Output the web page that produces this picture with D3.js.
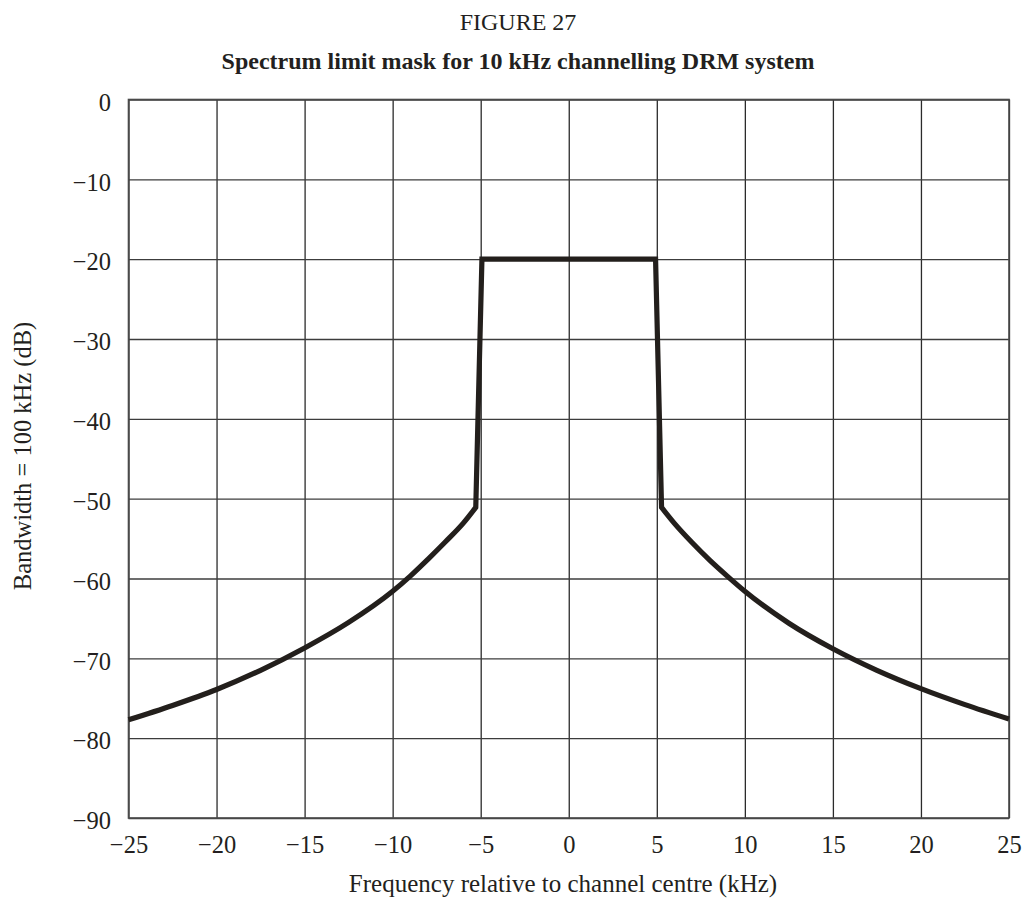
<!DOCTYPE html>
<html>
<head>
<meta charset="utf-8">
<script src="https://cdn.jsdelivr.net/npm/d3@7"></script>
<style>
  html, body { margin: 0; padding: 0; background: #fff; }
  svg text { font-family: "Liberation Serif", "Times New Roman", serif; fill: #231f20; }
</style>
</head>
<body>
<svg id="chart" width="1026" height="901"></svg>
<script>
// ---- data ----
const figureLabel = "FIGURE 27";
const chartTitle = "Spectrum limit mask for 10 kHz channelling DRM system";
const xTitle = "Frequency relative to channel centre (kHz)";
const yTitle = "Bandwidth = 100 kHz (dB)";
const xTicks = [-25, -20, -15, -10, -5, 0, 5, 10, 15, 20, 25];
const yTicks = [0, -10, -20, -30, -40, -50, -60, -70, -80, -90];

// lower skirt (left), kHz / dB
const leftFreq  = [-25, -22.5, -20, -17.5, -15, -12.5, -10, -9, -8, -7, -6, -5.28];
const leftLevel = [-77.7, -75.9, -73.9, -71.5, -68.7, -65.5, -61.6, -59.7, -57.6, -55.4, -53.1, -51.1];
// flat top of the mask, kHz / dB
const topFreq  = [-4.93, 4.93];
const topLevel = [-20, -20];
// lower skirt (right), kHz / dB
const rightFreq  = [5.27, 6, 7, 8, 9, 10, 12.5, 15, 17.5, 20, 22.5, 25];
const rightLevel = [-51.1, -53.1, -55.5, -57.7, -59.7, -61.6, -65.6, -68.8, -71.5, -73.8, -75.8, -77.6];

// ---- layout ----
const svg = d3.select("#chart");
const plotL = 128.5, plotR = 1009, plotT = 99.5, plotB = 818;
const x = d3.scaleLinear().domain([-25, 25]).range([plotL, plotR]);
const y = d3.scaleLinear().domain([-90, 0]).range([plotB, plotT]);

// grid + ticks via axes
const gx = svg.append("g")
  .attr("transform", `translate(0,${plotB})`)
  .call(d3.axisBottom(x).tickValues(xTicks).tickSize(-(plotB - plotT)).tickPadding(17.5)
        .tickFormat(d3.format("d")));
gx.select(".domain").remove();
gx.selectAll(".tick line").attr("stroke", "#2b2b2b").attr("stroke-width", 1.3);
gx.selectAll(".tick text").attr("font-size", 24.5).attr("fill", "#231f20");

const gy = svg.append("g")
  .attr("transform", `translate(${plotL},0)`)
  .call(d3.axisLeft(y).tickValues(yTicks).tickSize(-(plotR - plotL)).tickPadding(17.5)
        .tickFormat(d3.format("d")));
gy.select(".domain").remove();
gy.selectAll(".tick line").attr("stroke", "#3c3c3c").attr("stroke-width", 1.3);
gy.selectAll(".tick text").attr("font-size", 24.5).attr("dy", "0.44em").attr("fill", "#231f20");

// frame
svg.append("rect")
  .attr("x", plotL).attr("y", plotT)
  .attr("width", plotR - plotL).attr("height", plotB - plotT)
  .attr("fill", "none").attr("stroke", "#4a4a4a").attr("stroke-width", 1.6);

// mask line: smooth skirts, straight sides and top, joined into one path
const zip = (a, b) => a.map((v, i) => [v, b[i]]);
const smooth = d3.line().x(d => x(d[0])).y(d => y(d[1])).curve(d3.curveMonotoneX);
const straight = d3.line().x(d => x(d[0])).y(d => y(d[1])).curve(d3.curveLinear);
const leftD = smooth(zip(leftFreq, leftLevel));
const topD = straight(zip(topFreq, topLevel)).replace(/^M/, "L");
const rightD = smooth(zip(rightFreq, rightLevel)).replace(/^M/, "L");
svg.append("path")
  .attr("d", leftD + topD + rightD)
  .attr("fill", "none")
  .attr("stroke", "#231f1c")
  .attr("stroke-width", 5.2)
  .attr("stroke-linejoin", "miter")
  .attr("stroke-linecap", "butt");

// titles
svg.append("text").attr("x", 518).attr("y", 30).attr("text-anchor", "middle")
  .attr("font-size", 24).text(figureLabel);
svg.append("text").attr("x", 518).attr("y", 69).attr("text-anchor", "middle")
  .attr("font-size", 24).attr("font-weight", "bold").text(chartTitle);
svg.append("text").attr("x", 563).attr("y", 892).attr("text-anchor", "middle")
  .attr("font-size", 25).text(xTitle);
svg.append("text").attr("transform", "translate(31,456) rotate(-90)")
  .attr("text-anchor", "middle").attr("font-size", 24.5).text(yTitle);
</script>
</body>
</html>
